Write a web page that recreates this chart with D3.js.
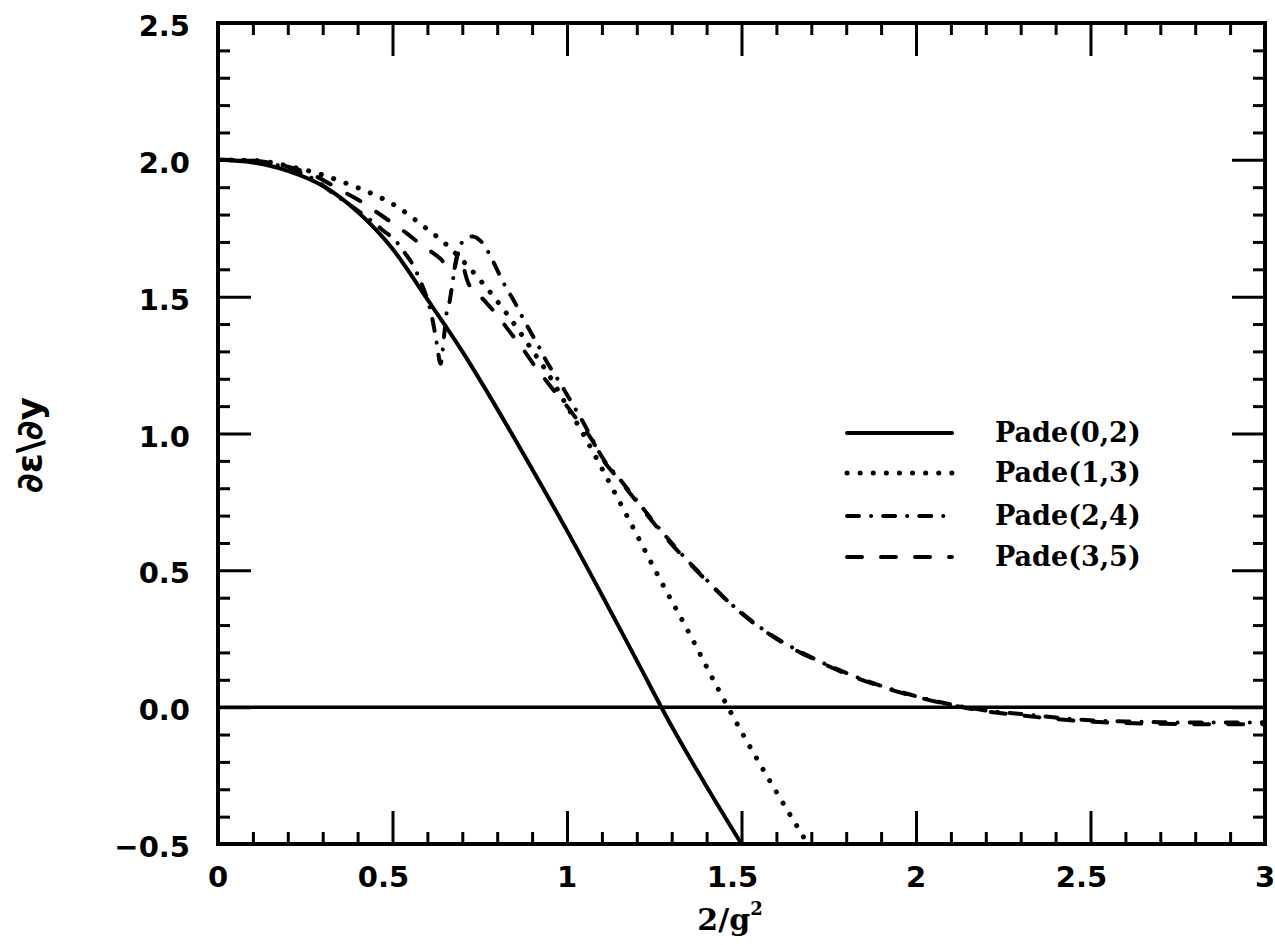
<!DOCTYPE html>
<html><head><meta charset="utf-8">
<script src="https://cdn.jsdelivr.net/npm/d3@7"></script>
<style>html,body{margin:0;padding:0;background:#fff;} svg{display:block}</style>
</head><body>
<svg id="chart" width="1275" height="945"></svg>
<script>
// ---------- data ----------
const xMajorTicks = [0, 0.5, 1, 1.5, 2, 2.5, 3];
const xTickLabels = ["0", "0.5", "1", "1.5", "2", "2.5", "3"];
const yMajorTicks = [-0.5, 0, 0.5, 1, 1.5, 2, 2.5];
const yTickLabels = ["\u22120.5", "0.0", "0.5", "1.0", "1.5", "2.0", "2.5"];
const seriesNames = ["Pade(0,2)", "Pade(1,3)", "Pade(2,4)", "Pade(3,5)"];

const pade02 = [[0,2.0],[0.1,1.99],[0.2,1.96],[0.3,1.905],[0.4,1.81],[0.5,1.675],[0.6,1.49],[0.7,1.30],[0.8,1.09],[0.9,0.87],[1.0,0.645],[1.1,0.41],[1.2,0.17],[1.3,-0.07],[1.4,-0.29],[1.5,-0.5]];

const pade13 = [[0,2.0],[0.1,1.998],[0.226,1.97],[0.3,1.945],[0.355,1.92],[0.435,1.88],[0.512,1.83],[0.584,1.762],[0.65,1.695],[0.714,1.614],[0.769,1.533],[0.823,1.445],[0.874,1.354],[0.9,1.305],[0.948,1.214],[1.0,1.10],[1.05,0.99],[1.1,0.872],[1.182,0.674],[1.264,0.473],[1.347,0.278],[1.43,0.074],[1.5,-0.09],[1.6,-0.31],[1.69,-0.5]];

const pade24 = [[0,2.0],[0.1,1.995],[0.2,1.97],[0.28,1.925],[0.34,1.868],[0.378,1.835],[0.411,1.805],[0.445,1.772],[0.473,1.742],[0.512,1.70],[0.535,1.66],[0.559,1.615],[0.574,1.575],[0.59,1.525],[0.60,1.49],[0.614,1.42],[0.626,1.336],[0.638,1.255],[0.648,1.36],[0.655,1.44],[0.664,1.485],[0.671,1.543],[0.68,1.615],[0.70,1.70],[0.73,1.72],[0.755,1.70],[0.787,1.632],[0.816,1.555],[0.85,1.48],[0.879,1.409],[0.913,1.332],[0.943,1.26],[0.979,1.187],[1.01,1.12],[1.04,1.055],[1.07,0.985],[1.1,0.915],[1.15,0.835],[1.2,0.755],[1.25,0.675],[1.3,0.60],[1.35,0.53],[1.4,0.465],[1.45,0.40],[1.5,0.345],[1.55,0.295],[1.6,0.252],[1.65,0.215],[1.7,0.182],[1.8,0.125],[1.9,0.078],[2.0,0.04],[2.1,0.01],[2.2,-0.012],[2.3,-0.025],[2.4,-0.038],[2.5,-0.048],[2.6,-0.052],[2.7,-0.055],[2.8,-0.056],[2.9,-0.056],[3.0,-0.055]];

const pade35 = [[0,2.0],[0.1,1.997],[0.2,1.975],[0.28,1.94],[0.35,1.89],[0.40,1.855],[0.445,1.817],[0.493,1.775],[0.54,1.732],[0.583,1.689],[0.636,1.64],[0.674,1.592],[0.688,1.658],[0.717,1.55],[0.76,1.49],[0.80,1.432],[0.834,1.375],[0.87,1.315],[0.903,1.255],[0.936,1.2],[0.97,1.145],[1.0,1.10],[1.035,1.04],[1.07,0.98],[1.1,0.91],[1.15,0.83],[1.2,0.75],[1.25,0.67],[1.3,0.595],[1.35,0.527],[1.4,0.462],[1.45,0.40],[1.5,0.343],[1.55,0.293],[1.6,0.25],[1.65,0.212],[1.7,0.18],[1.8,0.122],[1.9,0.075],[2.0,0.038],[2.1,0.008],[2.2,-0.015],[2.3,-0.03],[2.4,-0.043],[2.5,-0.053],[2.6,-0.058],[2.7,-0.061],[2.8,-0.062],[2.9,-0.062],[3.0,-0.062]];

// ---------- setup ----------
const svg = d3.select("#chart");
const x = d3.scaleLinear().domain([0, 3]).range([218, 1265]);
const y = d3.scaleLinear().domain([-0.5, 2.5]).range([844, 23]);

const isMajor = (arr) => (v) => arr.some(m => Math.abs(m - v) < 1e-9);
const xMinor = x.ticks(30).filter(v => !isMajor(xMajorTicks)(v));
const yMinor = y.ticks(30).filter(v => !isMajor(yMajorTicks)(v));

function addAxis(axisFn, scale, values, size, transform) {
  const g = svg.append("g").attr("transform", transform)
    .call(axisFn(scale).tickValues(values).tickSize(size).tickFormat(""));
  g.select(".domain").remove();
  g.selectAll("line").attr("stroke", "#000").attr("stroke-width", 3);
}
const MAJ = -33, MIN = -12;
addAxis(d3.axisBottom, x, xMajorTicks, MAJ, `translate(0,${y(-0.5)})`);
addAxis(d3.axisBottom, x, xMinor, MIN, `translate(0,${y(-0.5)})`);
addAxis(d3.axisTop, x, xMajorTicks, MAJ, `translate(0,${y(2.5)})`);
addAxis(d3.axisTop, x, xMinor, MIN, `translate(0,${y(2.5)})`);
addAxis(d3.axisLeft, y, yMajorTicks, MAJ, `translate(${x(0)},0)`);
addAxis(d3.axisLeft, y, yMinor, MIN, `translate(${x(0)},0)`);
addAxis(d3.axisRight, y, yMajorTicks, MAJ, `translate(${x(3)},0)`);
addAxis(d3.axisRight, y, yMinor, MIN, `translate(${x(3)},0)`);

// frame
svg.append("rect")
  .attr("x", x(0)).attr("y", y(2.5))
  .attr("width", x(3) - x(0)).attr("height", y(-0.5) - y(2.5))
  .attr("fill", "none").attr("stroke", "#000").attr("stroke-width", 4);

// zero line
svg.append("line")
  .attr("x1", x(0)).attr("x2", x(3)).attr("y1", y(0)).attr("y2", y(0))
  .attr("stroke", "#000").attr("stroke-width", 3.5);

// tick labels
const tickFont = "'DejaVu Sans', sans-serif";
svg.append("g").selectAll("text").data(xMajorTicks).join("text")
  .attr("x", (d, i) => x(d) + (xTickLabels[i].includes(".") ? -9 : 0))
  .attr("y", 887)
  .attr("text-anchor", "middle")
  .attr("font-family", tickFont).attr("font-weight", "bold").attr("font-size", 29)
  .text((d, i) => xTickLabels[i]);

svg.append("g").selectAll("text").data(yMajorTicks).join("text")
  .attr("x", 190)
  .attr("y", d => y(d) + 13)
  .attr("text-anchor", "end")
  .attr("font-family", tickFont).attr("font-weight", "bold").attr("font-size", 29)
  .text((d, i) => yTickLabels[i]);

// axis titles
const xt = svg.append("text")
  .attr("x", 730).attr("y", 930)
  .attr("text-anchor", "middle")
  .attr("font-family", "'DejaVu Serif', serif").attr("font-weight", "bold").attr("font-size", 30);
xt.append("tspan").text("2/g");
xt.append("tspan").attr("font-size", 18).attr("dy", -15).text("2");

svg.append("text")
  .attr("transform", "translate(42,445) rotate(-90)")
  .attr("text-anchor", "middle")
  .attr("font-family", "'DejaVu Sans', sans-serif").attr("font-weight", "bold").attr("font-size", 36)
  .text("\u2202\u03b5\\\u2202y");

// ---------- curves ----------
svg.append("clipPath").attr("id", "plotclip").append("rect")
  .attr("x", x(0)).attr("y", y(2.5)).attr("width", x(3) - x(0)).attr("height", y(-0.5) - y(2.5));

const styles = [
  { data: pade02, dash: null, width: 4 },
  { data: pade13, dash: "0.1,13", width: 5 },
  { data: pade24, dash: "12,12,0.1,12", width: 4 },
  { data: pade35, dash: "15,19", width: 4 }
];
const line = d3.line().x(d => x(d[0])).y(d => y(d[1])).curve(d3.curveMonotoneX);
const cg = svg.append("g").attr("clip-path", "url(#plotclip)");
styles.forEach(s => {
  cg.append("path").datum(s.data)
    .attr("d", line)
    .attr("fill", "none").attr("stroke", "#000")
    .attr("stroke-width", s.width)
    .attr("stroke-linecap", "round").attr("stroke-linejoin", "round")
    .attr("stroke-dasharray", s.dash);
});

// ---------- legend ----------
const legY = [433, 473, 516, 557];
const lg = svg.append("g");
styles.forEach((s, i) => {
  lg.append("line")
    .attr("x1", 847).attr("x2", 952).attr("y1", legY[i]).attr("y2", legY[i])
    .attr("stroke", "#000").attr("stroke-width", s.width)
    .attr("stroke-linecap", "round")
    .attr("stroke-dasharray", s.dash);
  lg.append("text")
    .attr("x", 995).attr("y", legY[i] + 9)
    .attr("font-family", "'DejaVu Serif', serif").attr("font-weight", "bold").attr("font-size", 27)
    .text(seriesNames[i]);
});
</script>
</body></html>
